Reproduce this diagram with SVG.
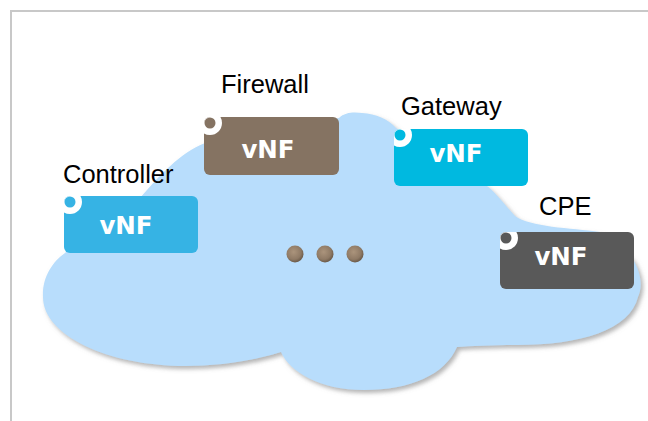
<svg xmlns="http://www.w3.org/2000/svg" width="648" height="421" viewBox="0 0 648 421">
<style>
.lbl{font-family:"Liberation Sans",Arial,sans-serif;font-size:25.5px;fill:#000}
.vnf{font-family:"DejaVu Sans",Verdana,sans-serif;font-weight:bold;font-size:24.5px;fill:#fff;text-anchor:middle}
.ring{fill:#fff}
</style>
<defs>
<filter id="sh" x="-5%" y="-5%" width="115%" height="120%">
<feDropShadow dx="2.5" dy="3" stdDeviation="2" flood-color="#777" flood-opacity="0.55"/>
</filter>
<radialGradient id="dotg" cx="0.42" cy="0.38" r="0.62">
<stop offset="0" stop-color="#ab947c"/>
<stop offset="0.7" stop-color="#8f7a65"/>
<stop offset="1" stop-color="#6b5a49"/>
</radialGradient>
<clipPath id="cF"><rect x="204" y="117" width="135" height="58" rx="6"/></clipPath>
<clipPath id="cC"><rect x="64" y="196" width="134" height="57" rx="6"/></clipPath>
<clipPath id="cG"><rect x="394" y="129" width="134" height="57" rx="6"/></clipPath>
<clipPath id="cP"><rect x="500" y="232" width="134" height="57" rx="6"/></clipPath>
</defs>
<rect x="0" y="0" width="648" height="421" fill="#fff"/>
<path d="M11,421 V11 H648" fill="none" stroke="#c8c8c8" stroke-width="2"/>
<g id="cloud">
<path filter="url(#sh)" fill="#b8ddfc" d="M43,297 C42,278 52,262 65,253 C85,235 112,212 140,198 C160,175 180,153 205,143 L339,118 C345,112 354,112 362,113 C376,114 388,119 396,128 L487,186 C496,193 505,205 515,216 C530,227 570,228 600,232 L632,258 C641,272 643,286 638,297 C630,330 580,345 517,345 C495,345 470,346 457,347 C445,375 410,390 364,390 C320,390 290,372 281,352 C250,362 215,366 186,366 C107,366 43,335 43,297 Z"/>
</g>
<g id="dots">
<circle cx="295" cy="254" r="8.5" fill="url(#dotg)"/>
<circle cx="325" cy="254" r="8.5" fill="url(#dotg)"/>
<circle cx="355" cy="254" r="8.5" fill="url(#dotg)"/>
</g>
<g id="firewall">
<text class="lbl" x="221" y="93">Firewall</text>
<rect x="204" y="117" width="135" height="58" rx="6" fill="#857362"/>
<circle class="ring" cx="210" cy="123" r="12" clip-path="url(#cF)"/>
<circle cx="210" cy="123" r="5.5" fill="#857362"/>
<text class="vnf" x="268" y="158">vNF</text>
</g>
<g id="controller">
<text class="lbl" x="63" y="183">Controller</text>
<rect x="64" y="196" width="134" height="57" rx="6" fill="#36b3e4"/>
<circle class="ring" cx="70" cy="202" r="12" clip-path="url(#cC)"/>
<circle cx="70" cy="202" r="5.5" fill="#36b3e4"/>
<text class="vnf" x="126" y="234">vNF</text>
</g>
<g id="gateway">
<text class="lbl" x="401" y="115">Gateway</text>
<rect x="394" y="129" width="134" height="57" rx="6" fill="#00b9e0"/>
<circle class="ring" cx="400" cy="135" r="12" clip-path="url(#cG)"/>
<circle cx="400" cy="135" r="5.5" fill="#00b9e0"/>
<text class="vnf" x="456" y="162">vNF</text>
</g>
<g id="cpe">
<text class="lbl" x="539" y="215">CPE</text>
<rect x="500" y="232" width="134" height="57" rx="6" fill="#595959"/>
<circle class="ring" cx="506" cy="238" r="12" clip-path="url(#cP)"/>
<circle cx="506" cy="238" r="5.5" fill="#595959"/>
<text class="vnf" x="561" y="265">vNF</text>
</g>
<g id="connectors"></g>
</svg>
